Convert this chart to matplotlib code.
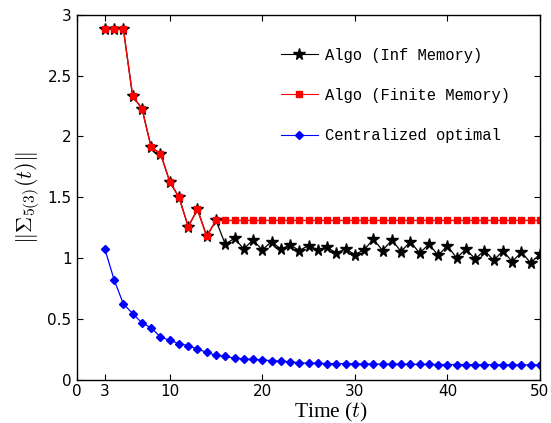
import matplotlib
matplotlib.use("Agg")
import matplotlib.pyplot as plt
import numpy as np

t = list(range(3, 51))
inf_memory = [2.88, 2.88, 2.88, 2.33, 2.23, 1.91, 1.86, 1.63, 1.50, 1.26, 1.40, 1.18, 1.31,
              1.115, 1.164, 1.076, 1.150, 1.068, 1.137, 1.074, 1.109, 1.063, 1.104, 1.068,
              1.090, 1.041, 1.076, 1.030, 1.068, 1.156, 1.063, 1.150, 1.054, 1.137, 1.041,
              1.115, 1.025, 1.101, 1.002, 1.074, 0.994, 1.063, 0.983, 1.060, 0.972, 1.049,
              0.961, 1.035]
finite_memory = [2.88, 2.88, 2.88, 2.33, 2.23, 1.91, 1.86, 1.63, 1.50, 1.26, 1.40, 1.18] + [1.31] * 36
centralized = [1.074, 0.821, 0.623, 0.545, 0.468, 0.427, 0.353, 0.325, 0.298, 0.281, 0.253,
               0.226, 0.201, 0.193, 0.179, 0.171, 0.168, 0.165, 0.157, 0.154, 0.149, 0.140,
               0.137, 0.135, 0.134, 0.133, 0.132, 0.131, 0.130, 0.130, 0.129, 0.129, 0.128,
               0.128, 0.127, 0.127, 0.126, 0.126, 0.126, 0.125, 0.125, 0.125, 0.124, 0.124,
               0.124, 0.123, 0.123, 0.123]
labels = ["Algo (Inf Memory)", "Algo (Finite Memory)", "Centralized optimal"]
xticks = [0, 3, 10, 20, 30, 40, 50]
yticks = [0, 0.5, 1, 1.5, 2, 2.5, 3]
yticklabels = ["0", "0.5", "1", "1.5", "2", "2.5", "3"]

plt.rcParams["mathtext.fontset"] = "cm"
fig = plt.figure(figsize=(5.51, 4.23), dpi=100)
ax = fig.add_axes([0.14, 0.102, 0.84, 0.863])

ax.plot(t, inf_memory, color="black", lw=0.9, marker="*", ms=8.5, mfc="black", mec="black", label=labels[0])
ax.plot(t, finite_memory, color="red", lw=1.0, marker="s", ms=4, mfc="red", mec="red", label=labels[1])
ax.plot(t, centralized, color="blue", lw=0.9, marker="D", ms=4.5, mfc="blue", mec="blue", label=labels[2])

ax.set_xlim(0, 50)
ax.set_ylim(0, 3)
ax.set_xticks(xticks)
ax.set_yticks(yticks)
ax.set_yticklabels(yticklabels)
ax.tick_params(direction="in", top=True, right=True, labelsize=11, length=4, width=0.8, pad=4)
ax.tick_params(axis="x", pad=3)
for s in ax.spines.values():
    s.set_linewidth(1.0)

fig.text(331 / 551, 1 - 412.5 / 423, "Time ($t$)", fontsize=15.5, family="Liberation Serif",
         ha="center", va="center")
ax.set_ylabel(r"$\|\Sigma_{5(3)}(t)\|$", fontsize=16, labelpad=4)

leg = ax.legend(loc="upper left", bbox_to_anchor=(0.44, 0.91), frameon=False,
                prop={"family": "Liberation Mono", "size": 11.2}, labelspacing=1.62,
                handlelength=2.4, handletextpad=0.45, borderaxespad=0.0, borderpad=0.0,
                numpoints=1)
for line in leg.get_lines():
    line.set_linewidth(0.8)

fig.savefig("out.png", dpi=100)
